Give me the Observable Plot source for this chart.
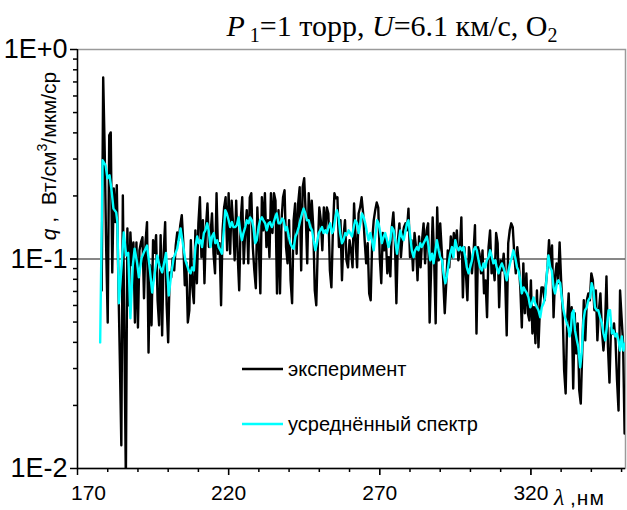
<!DOCTYPE html>
<html><head><meta charset="utf-8">
<script src="https://cdn.jsdelivr.net/npm/d3@7"></script>
<script src="https://cdn.jsdelivr.net/npm/@observablehq/plot@0.6"></script>
<style>
html,body{margin:0;padding:0;background:#fff;}
#chart{position:relative;width:627px;height:510px;overflow:hidden;}
#chart svg{display:block;}
</style></head><body><div id="chart"></div>
<script>
// Experimental spectrum: wavelength grid start / step (nm) and values q
const expStart = 178, expStep = 0.5;
const expQ = [
0.0708,0.735,0.330,0.110,0.0498,0.389,0.402,0.0863,0.217,0.150,0.225,0.0817,0.0335,0.0129,0.201,0.0446,0.0088,0.140,0.0601,0.134,
0.0933,0.120,0.0498,0.120,0.0471,0.110,0.120,0.127,0.0649,0.120,0.150,0.0358,0.0933,0.0482,0.123,0.107,0.130,0.0635,0.0482,0.130,
0.0432,0.107,0.150,0.0601,0.0400,0.0863,0.0817,0.101,0.0882,0.116,0.134,0.123,0.145,0.162,0.120,0.0749,0.0963,0.0498,0.0569,0.123,
0.0732,0.0615,0.137,0.0766,0.148,0.197,0.102,0.153,0.0766,0.142,0.184,0.114,0.130,0.165,0.106,0.0854,0.206,0.106,0.119,0.0601,
0.137,0.176,0.197,0.110,0.206,0.106,0.190,0.145,0.0985,0.190,0.104,0.0708,0.153,0.197,0.0953,0.137,0.171,0.0953,0.197,0.206,
0.114,0.0882,0.0725,0.176,0.114,0.0685,0.197,0.137,0.206,0.114,0.153,0.102,0.206,0.133,0.206,0.190,0.0685,0.171,0.0685,0.153,
0.197,0.213,0.114,0.0953,0.153,0.0791,0.0615,0.153,0.184,0.106,0.184,0.220,0.0882,0.220,0.243,0.165,0.0953,0.206,0.137,0.190,
0.142,0.0708,0.0601,0.114,0.176,0.153,0.110,0.176,0.137,0.176,0.165,0.0882,0.0732,0.137,0.206,0.195,0.197,0.114,0.153,0.0791,
0.128,0.153,0.0985,0.0912,0.123,0.110,0.0912,0.184,0.123,0.0912,0.165,0.176,0.197,0.165,0.123,0.0953,0.119,0.0685,0.0635,0.123,
0.153,0.171,0.186,0.176,0.102,0.0766,0.133,0.110,0.128,0.0854,0.102,0.0826,0.142,0.167,0.123,0.0615,0.123,0.148,0.102,0.128,
0.142,0.148,0.137,0.174,0.102,0.123,0.0882,0.133,0.114,0.0791,0.128,0.0912,0.123,0.148,0.0953,0.137,0.148,0.0498,0.0912,0.158,
0.0985,0.0493,0.176,0.0985,0.148,0.110,0.0791,0.0551,0.0766,0.110,0.0912,0.128,0.102,0.133,0.114,0.137,0.0985,0.110,0.158,0.0656,
0.114,0.0854,0.0635,0.114,0.102,0.0854,0.106,0.145,0.0441,0.114,0.106,0.0854,0.110,0.0685,0.0791,0.0527,0.114,0.137,0.0854,0.0953,
0.0791,0.133,0.119,0.0588,0.0985,0.0882,0.106,0.0791,0.0432,0.119,0.137,0.148,0.142,0.106,0.0854,0.114,0.0953,0.0732,0.0471,0.0953,
0.0551,0.0854,0.0551,0.0509,0.0791,0.0441,0.0588,0.0396,0.0708,0.0379,0.0588,0.0732,0.0732,0.0635,0.0766,0.0912,0.123,0.0912,0.116,0.0527,
0.0826,0.0953,0.0766,0.120,0.0791,0.0569,0.0294,0.0228,0.0509,0.0685,0.0441,0.0588,0.0241,0.0551,0.0354,0.0493,0.0236,0.0204,0.0366,0.0635,
0.0409,0.0635,0.0685,0.0635,0.0854,0.0791,0.0569,0.0708,0.0409,0.0569,0.0685,0.0456,0.0366,0.0456,0.0826,0.0379,0.0257,0.0471,0.0441,0.0493,
0.0409,0.0263,0.0189,0.0708,0.0527,0.0396,0.0147
];

// Averaged spectrum: wavelengths (nm) and values q
const avgLambda = [
177.5,178.3,179.3,179.9,180.6,181.2,181.9,182.8,183.2,183.7,184.6,185.3,186.1,186.8,187.5,188.3,188.9,189.7,190.3,191.2,
191.9,193.0,193.8,194.7,195.6,196.4,197.1,198.0,198.5,199.3,200.2,201.1,201.8,203.0,204.1,204.8,205.7,206.8,207.4,207.9,
208.5,209.0,209.6,210.1,210.7,211.2,211.8,212.3,212.9,213.4,214.0,214.5,215.1,215.6,216.2,216.7,217.3,217.8,218.4,218.9,
219.4,220.0,220.5,221.1,221.6,222.2,222.7,223.3,223.8,224.4,224.9,225.5,226.0,226.6,227.1,227.7,228.2,228.8,229.3,229.9,
230.4,231.0,231.5,232.1,232.6,233.2,233.7,234.3,234.8,235.4,235.9,236.5,237.1,237.7,238.2,238.8,239.3,239.9,240.4,241.0,
241.5,242.1,242.6,243.2,243.7,244.3,244.8,245.4,245.9,246.5,247.0,247.6,248.1,248.7,249.2,249.8,250.3,250.9,251.4,252.0,
252.5,253.1,253.6,254.2,254.7,255.3,255.8,256.4,256.9,257.5,258.0,258.6,259.1,259.7,260.2,260.8,261.4,261.9,262.5,263.0,
263.6,264.1,264.7,265.2,265.8,266.3,266.9,267.4,268.0,268.5,269.1,269.6,270.2,270.7,271.3,271.8,272.4,272.9,273.5,274.0,
274.6,275.1,275.7,276.2,276.8,277.3,277.9,278.4,279.0,279.5,280.1,280.6,281.2,281.7,282.3,282.8,283.4,283.9,284.5,285.0,
285.6,286.2,286.7,287.3,287.8,288.4,288.9,289.5,290.0,290.6,291.1,291.7,292.2,292.8,293.3,293.9,294.4,295.0,295.5,296.1,
296.6,297.2,297.7,298.3,298.8,299.4,299.9,300.5,301.0,301.6,302.1,302.7,303.2,303.8,304.3,304.9,305.4,306.0,306.5,307.1,
307.6,308.2,308.7,309.3,309.8,310.4,310.9,311.5,312.0,312.6,313.1,313.7,314.2,314.8,315.4,315.9,316.5,317.0,317.6,318.1,
318.7,319.2,319.8,320.3,320.9,321.4,322.0,322.5,323.1,323.6,324.2,324.7,325.3,325.8,326.4,326.9,327.5,328.0,328.6,329.1,
329.7,330.2,330.8,331.3,331.9,332.4,332.8,333.2,333.6,334.1,334.6,335.2,335.7,336.3,336.8,337.4,337.9,338.5,339.0,339.6,
340.1,340.7,341.2,341.8,342.3,342.9,343.5,344.0,344.6,345.1,345.7,346.2,346.8,347.3,347.9,348.4,349.0,349.5,350.1,350.6,
351.2
];
const avgQ = [
0.0400,0.296,0.280,0.243,0.251,0.217,0.174,0.167,0.150,0.0615,0.0933,0.134,0.104,0.107,0.0521,0.0933,0.112,0.0963,0.0817,0.101,
0.107,0.116,0.0933,0.0692,0.0863,0.104,0.0933,0.0863,0.0933,0.107,0.0670,0.0863,0.101,0.112,0.140,0.120,0.0985,0.0882,0.0854,0.0912,
0.0882,0.114,0.128,0.119,0.123,0.114,0.133,0.137,0.148,0.137,0.114,0.128,0.133,0.119,0.123,0.114,0.110,0.106,0.137,0.171,
0.165,0.153,0.142,0.150,0.142,0.142,0.145,0.158,0.137,0.123,0.133,0.142,0.153,0.148,0.158,0.153,0.142,0.119,0.123,0.142,
0.153,0.158,0.153,0.148,0.137,0.148,0.150,0.142,0.148,0.158,0.165,0.148,0.148,0.156,0.153,0.137,0.142,0.128,0.119,0.114,
0.112,0.128,0.133,0.142,0.153,0.165,0.174,0.165,0.153,0.153,0.142,0.137,0.123,0.110,0.119,0.133,0.137,0.142,0.133,0.137,
0.133,0.142,0.148,0.133,0.137,0.158,0.171,0.158,0.133,0.119,0.123,0.133,0.130,0.137,0.133,0.128,0.142,0.153,0.148,0.133,
0.148,0.165,0.158,0.148,0.133,0.123,0.133,0.123,0.110,0.128,0.153,0.148,0.133,0.119,0.128,0.133,0.123,0.114,0.123,0.142,
0.137,0.123,0.106,0.119,0.137,0.128,0.123,0.133,0.148,0.153,0.128,0.110,0.102,0.110,0.114,0.110,0.119,0.114,0.119,0.123,
0.128,0.114,0.0985,0.106,0.0953,0.110,0.123,0.110,0.102,0.0985,0.0854,0.0766,0.0826,0.0953,0.106,0.114,0.102,0.123,0.114,0.110,
0.114,0.110,0.114,0.102,0.0912,0.0854,0.0912,0.0985,0.110,0.114,0.110,0.0985,0.0912,0.0882,0.0953,0.0912,0.0985,0.102,0.110,0.102,
0.0953,0.0985,0.0912,0.0854,0.0912,0.0953,0.0912,0.0854,0.0791,0.0882,0.0953,0.102,0.110,0.102,0.0912,0.0882,0.0791,0.0685,0.0732,0.0708,
0.0685,0.0656,0.0588,0.0615,0.0656,0.0615,0.0588,0.0569,0.0527,0.0588,0.0615,0.0656,0.0854,0.104,0.0912,0.0882,0.0732,0.0685,0.0766,0.0791,
0.0766,0.0656,0.0569,0.0527,0.0493,0.0471,0.0427,0.0456,0.0551,0.0569,0.0456,0.0409,0.0379,0.0304,0.0354,0.0509,0.0569,0.0588,0.0635,0.0656,
0.0766,0.0708,0.0588,0.0569,0.0569,0.0527,0.0493,0.0441,0.0409,0.0471,0.0569,0.0569,0.0441,0.0456,0.0427,0.0441,0.0409,0.0366,0.0427,0.0366,
0.0396
];

const xTicksMajor = [170, 220, 270, 320];
const xTickLabels = ["170", "220", "270", "320"];
const xTicksMinor = [180, 190, 200, 210, 230, 240, 250, 260, 280, 290, 300, 310, 330, 340, 350];
const yTicksMajor = [1, 0.1, 0.01];
const yTickLabels = ["1E+0", "1E-1", "1E-2"];
const yTicksMinor = [0.02, 0.03, 0.04, 0.05, 0.06, 0.07, 0.08, 0.09, 0.2, 0.3, 0.4, 0.5, 0.6, 0.7, 0.8, 0.9];
const seriesNames = ["эксперимент", "усреднённый спектр"];
const seriesColors = ["#000000", "#00ffff"];

const expData = expQ.map((q, i) => ({lambda: expStart + i * expStep, q}));
const avgData = avgLambda.map((l, i) => ({lambda: l, q: avgQ[i]}));

const sans = "'Liberation Sans', Arial, sans-serif";
const serif = "'Liberation Serif', 'Times New Roman', serif";
const xMin = 170, yMin = 0.01;

const plot = Plot.plot({
  width: 627, height: 510,
  marginTop: 49, marginRight: 2, marginBottom: 42, marginLeft: 77,
  style: {fontFamily: sans, background: "white", color: "#000"},
  x: {domain: [xMin, 351.3]},
  y: {type: "log", domain: [yMin, 1]},
  marks: [
    Plot.frame({stroke: "#9a9a9a", strokeWidth: 1.5}),
    Plot.ruleY([0.1], {stroke: "#111", strokeWidth: 1.2}),
    Plot.line(expData, {x: "lambda", y: "q", stroke: seriesColors[0], strokeWidth: 2.4, clip: true}),
    Plot.line(avgData, {x: "lambda", y: "q", stroke: seriesColors[1], strokeWidth: 2.4, clip: true}),
    Plot.ruleX([xMin], {stroke: "#000", strokeWidth: 1.4}),
    Plot.ruleY([yMin], {stroke: "#000", strokeWidth: 1.4}),
    // outside tick marks (minor and major)
    Plot.ruleX(xTicksMinor, {x: d => d, y1: yMin, y2: yMin, insetBottom: -4, stroke: "#000", strokeWidth: 1.5}),
    Plot.ruleX(xTicksMajor, {x: d => d, y1: yMin, y2: yMin, insetBottom: -7, stroke: "#000", strokeWidth: 1.5}),
    Plot.ruleY(yTicksMinor, {y: d => d, x1: xMin, x2: xMin, insetLeft: -4, stroke: "#000", strokeWidth: 1.5}),
    Plot.ruleY(yTicksMajor, {y: d => d, x1: xMin, x2: xMin, insetLeft: -7, stroke: "#000", strokeWidth: 1.5}),
    Plot.axisX({ticks: xTicksMajor.slice(1), tickSize: 7, tickPadding: 10, fontSize: 21,
      tickFormat: d => xTickLabels[xTicksMajor.indexOf(d)], label: null}),
    Plot.axisX({ticks: [xTicksMajor[0]], tickSize: 0, tickPadding: 17, dx: 11, fontSize: 21,
      tickFormat: d => xTickLabels[xTicksMajor.indexOf(d)], label: null}),
    Plot.axisY({ticks: yTicksMajor, tickSize: 7, tickPadding: 3, fontSize: 27,
      tickFormat: d => yTickLabels[yTicksMajor.indexOf(d)], label: null})
  ]
});

document.getElementById("chart").appendChild(plot);
const svg = d3.select(plot);

// Title
const title = svg.append("text").attr("x", 392).attr("y", 36).attr("text-anchor", "middle")
  .attr("font-family", serif).attr("font-size", 30).attr("fill", "#000");
title.append("tspan").attr("font-style", "italic").text("P");
title.append("tspan").attr("font-size", 20).attr("dx", 5).attr("dy", 6).text("1");
title.append("tspan").attr("dy", -6).text("=1 торр, ");
title.append("tspan").attr("font-style", "italic").text("U");
title.append("tspan").text("=6.1 км/с, O");
title.append("tspan").attr("font-size", 20).attr("dy", 6).text("2");

// Y axis title
const yl = svg.append("text").attr("transform", "translate(56,156) rotate(-90)")
  .attr("text-anchor", "middle").attr("font-family", sans).attr("font-size", 21).attr("fill", "#000");
yl.append("tspan").attr("font-style", "italic").text("q");
yl.append("tspan").text(" ,  Вт/см");
yl.append("tspan").attr("font-size", 14).attr("dy", -9).text("3");
yl.append("tspan").attr("dy", 9).text("/мкм/ср");

// X axis title
svg.append("text").attr("x", 554).attr("y", 505).attr("text-anchor", "start")
  .attr("font-family", serif).attr("font-style", "italic").attr("font-size", 24).attr("fill", "#000").text("λ");
svg.append("text").attr("x", 570).attr("y", 505).attr("text-anchor", "start")
  .attr("font-family", sans).attr("font-size", 21).attr("letter-spacing", 1).attr("fill", "#000").text(",нм");

// Legend
const legendY = [369, 424];
seriesNames.forEach((name, i) => {
  svg.append("line").attr("x1", 242).attr("x2", 283).attr("y1", legendY[i]).attr("y2", legendY[i])
    .attr("stroke", seriesColors[i]).attr("stroke-width", 2.5);
  svg.append("text").attr("x", 288).attr("y", legendY[i] + 7).attr("text-anchor", "start")
    .attr("font-family", sans).attr("font-size", 20).attr("fill", "#000").text(name);
});
</script>
</body></html>
